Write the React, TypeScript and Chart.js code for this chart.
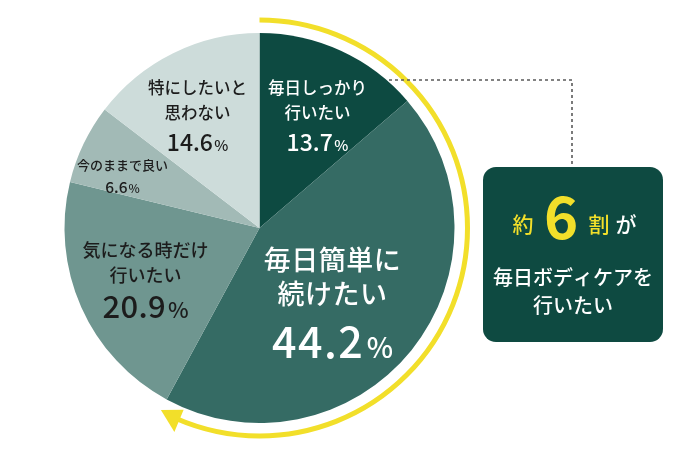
import React, { useEffect, useRef } from "react";
import { Chart, registerables } from "chart.js";

Chart.register(...registerables);

// ---- data ----
const categories = [
  "毎日しっかり行いたい",
  "毎日簡単に続けたい",
  "気になる時だけ行いたい",
  "今のままで良い",
  "特にしたいと思わない",
];
const values = [13.7, 44.2, 20.9, 6.6, 14.6];
const labelLines = [
  ["毎日しっかり", "行いたい"],
  ["毎日簡単に", "続けたい"],
  ["気になる時だけ", "行いたい"],
  ["今のままで良い"],
  ["特にしたいと", "思わない"],
];
const highlightedSlices = [0, 1];
const calloutHead = ["約", "6", "割", "が"];
const calloutLines = ["毎日ボディケアを", "行いたい"];

// ---- styles ----
const colors = ["#0d4a41", "#356b64", "#6f9690", "#a2bab6", "#cddcda"];
const FONT = '"Noto Sans CJK JP", "Noto Sans", sans-serif';
const YELLOW = "#f2df2a";
const BOX = "#0e4a41";

type LabelStyle = {
  r: number;
  dAng: number;
  color: string;
  textSize: number;
  textSpacing: number;
  numSize: number;
  pctSize: number;
  dy: number[];
  numSpacing: number;
};
const labelStyles: LabelStyle[] = [
  { r: 0.66, dAng: 2.1, color: "#ffffff", textSize: 16.5, textSpacing: 0, numSize: 23, pctSize: 15, dy: [-25, 0, 30], numSpacing: 0 },
  { r: 0.515, dAng: 4.5, color: "#ffffff", textSize: 27, textSpacing: 0.5, numSize: 43, pctSize: 28, dy: [-37, -3, 46], numSpacing: 1.5 },
  { r: 0.632, dAng: 1.5, color: "#1c1c1c", textSize: 18, textSpacing: 0, numSize: 31, pctSize: 22, dy: [-25, 0, 32], numSpacing: 0.3 },
  { r: 0.773, dAng: -0.9, color: "#1c1c1c", textSize: 13, textSpacing: 0, numSize: 15.5, pctSize: 12, dy: [0, 22], numSpacing: 0 },
  { r: 0.67, dAng: -2, color: "#1c1c1c", textSize: 16.5, textSpacing: 0, numSize: 23, pctSize: 15, dy: [-25, 0, 30], numSpacing: 0 },
];

function drawPercent(
  ctx: CanvasRenderingContext2D,
  value: number,
  cx: number,
  cy: number,
  st: LabelStyle
) {
  const num = value.toFixed(1);
  ctx.save();
  ctx.textBaseline = "alphabetic";
  ctx.textAlign = "left";
  ctx.font = `500 ${st.numSize}px ${FONT}`;
  (ctx as any).letterSpacing = `${st.numSpacing}px`;
  const wNum = ctx.measureText(num).width;
  ctx.font = `500 ${st.pctSize}px ${FONT}`;
  (ctx as any).letterSpacing = "0px";
  const wPct = ctx.measureText("%").width;
  const gap = st.numSize * 0.06;
  const total = wNum + gap + wPct;
  const x0 = cx - total / 2;
  const base = cy + st.numSize * 0.36;
  ctx.fillStyle = st.color;
  ctx.font = `500 ${st.numSize}px ${FONT}`;
  (ctx as any).letterSpacing = `${st.numSpacing}px`;
  ctx.fillText(num, x0, base);
  ctx.font = `500 ${st.pctSize}px ${FONT}`;
  (ctx as any).letterSpacing = "0px";
  ctx.fillText("%", x0 + wNum + gap, base);
  ctx.restore();
}

const overlayPlugin = {
  id: "overlay",
  afterDatasetsDraw(chart: any) {
    const ctx: CanvasRenderingContext2D = chart.ctx;
    const meta = chart.getDatasetMeta(0);
    const arcs = meta.data;
    if (!arcs.length) return;
    const p0 = arcs[highlightedSlices[0]].getProps(["x", "y", "startAngle", "outerRadius"], true);
    const p1 = arcs[highlightedSlices[highlightedSlices.length - 1]].getProps(["endAngle"], true);
    const cx = p0.x;
    const cy = p0.y;
    const R = p0.outerRadius + 13;

    // yellow arc with arrowhead
    const headLen = 21 / R;
    ctx.save();
    ctx.strokeStyle = YELLOW;
    ctx.lineWidth = 5;
    ctx.lineCap = "butt";
    ctx.beginPath();
    ctx.arc(cx, cy, R, p0.startAngle, p1.endAngle - headLen * 0.8);
    ctx.stroke();
    const tipA = p1.endAngle;
    const baseA = p1.endAngle - headLen;
    ctx.fillStyle = YELLOW;
    ctx.beginPath();
    ctx.moveTo(cx + Math.cos(tipA) * (R - 1), cy + Math.sin(tipA) * (R - 1));
    ctx.lineTo(cx + Math.cos(baseA) * (R + 13), cy + Math.sin(baseA) * (R + 13));
    ctx.lineTo(cx + Math.cos(baseA) * (R - 11), cy + Math.sin(baseA) * (R - 11));
    ctx.closePath();
    ctx.fill();
    ctx.restore();

    // slice labels
    arcs.forEach((arc: any, i: number) => {
      const st = labelStyles[i];
      const pr = arc.getProps(["x", "y", "startAngle", "endAngle", "outerRadius"], true);
      const mid = (pr.startAngle + pr.endAngle) / 2 + (st.dAng * Math.PI) / 180;
      const ax = pr.x + Math.cos(mid) * pr.outerRadius * st.r;
      const ay = pr.y + Math.sin(mid) * pr.outerRadius * st.r;
      ctx.save();
      ctx.fillStyle = st.color;
      ctx.textAlign = "center";
      ctx.textBaseline = "middle";
      ctx.font = `500 ${st.textSize}px ${FONT}`;
      (ctx as any).letterSpacing = `${st.textSpacing}px`;
      const lines = labelLines[i];
      lines.forEach((ln, j) => {
        ctx.fillText(ln, ax, ay + st.dy[j]);
      });
      (ctx as any).letterSpacing = "0px";
      ctx.restore();
      drawPercent(ctx, values[i], ax, ay + st.dy[lines.length], st);
    });

    // dotted connector
    ctx.save();
    ctx.strokeStyle = "#5a5a5a";
    ctx.lineWidth = 1.6;
    ctx.setLineDash([3, 3]);
    ctx.beginPath();
    ctx.moveTo(389, 80);
    ctx.lineTo(572, 80);
    ctx.lineTo(572, 167);
    ctx.stroke();
    ctx.restore();

    // callout box
    const bx = 483, by = 167, bw = 180, bh = 175;
    ctx.save();
    ctx.fillStyle = BOX;
    ctx.beginPath();
    (ctx as any).roundRect(bx, by, bw, bh, 13);
    ctx.fill();
    ctx.textBaseline = "middle";
    ctx.textAlign = "center";
    ctx.fillStyle = YELLOW;
    ctx.font = `500 21px ${FONT}`;
    ctx.fillText(calloutHead[0], 523, 224);
    ctx.font = `bold 58px ${FONT}`;
    ctx.fillText(calloutHead[1], 561, 217);
    ctx.font = `500 21px ${FONT}`;
    ctx.fillText(calloutHead[2], 599, 224);
    ctx.fillStyle = "#ffffff";
    ctx.fillText(calloutHead[3], 626, 224);
    ctx.font = `500 20px ${FONT}`;
    ctx.fillText(calloutLines[0], 573, 277);
    ctx.fillText(calloutLines[1], 573, 305);
    ctx.restore();
  },
};

export default function App() {
  const ref = useRef<HTMLCanvasElement | null>(null);
  useEffect(() => {
    if (!ref.current) return;
    const chart = new Chart(ref.current, {
      type: "pie",
      data: {
        labels: categories,
        datasets: [
          {
            data: values,
            backgroundColor: colors,
            borderWidth: 0,
          },
        ],
      },
      options: {
        animation: false,
        responsive: true,
        maintainAspectRatio: false,
        layout: { padding: { left: 64, right: 226, top: 33, bottom: 40 } },
        plugins: {
          legend: { display: false },
          tooltip: { enabled: false },
        },
      },
      plugins: [overlayPlugin],
    });
    return () => chart.destroy();
  }, []);
  return (
    <div
      style={{
        position: "fixed",
        left: 0,
        top: 0,
        width: 681,
        height: 463,
        background: "#ffffff",
      }}
    >
      <canvas ref={ref} />
    </div>
  );
}
